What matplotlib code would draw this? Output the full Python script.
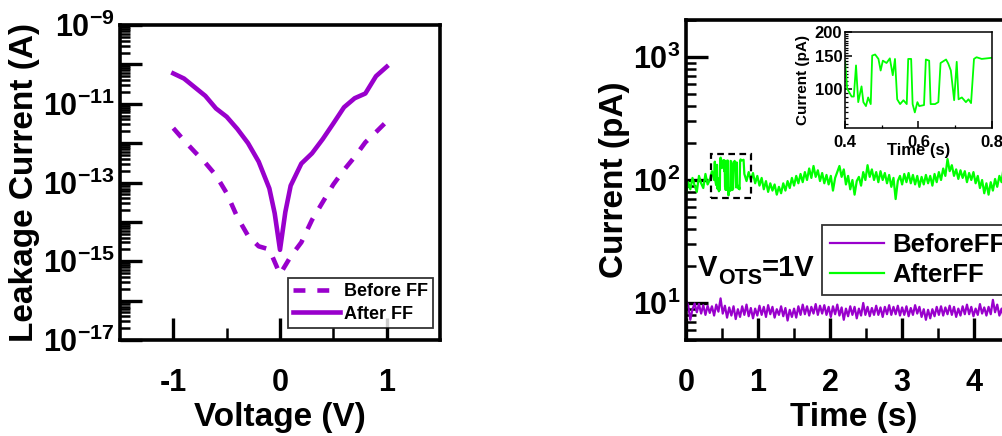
import numpy as np
import matplotlib
matplotlib.use("Agg")
import matplotlib.pyplot as plt
from matplotlib.ticker import LogLocator, MultipleLocator, NullFormatter, FixedLocator
from matplotlib.patches import Rectangle
from matplotlib.transforms import offset_copy

plt.rcParams['font.family'] = ['Liberation Sans', 'DejaVu Sans']
plt.rcParams['font.weight'] = 'bold'
plt.rcParams['mathtext.fontset'] = 'custom'
plt.rcParams['mathtext.rm'] = 'Liberation Sans:bold'
plt.rcParams['mathtext.bf'] = 'Liberation Sans:bold'
plt.rcParams['mathtext.it'] = 'Liberation Sans:bold'

PURPLE = '#9900CC'
GREEN = '#00FF00'

# I-V leakage (log10 of current in A)
voltage = [-1.0, -0.9, -0.8, -0.7, -0.6, -0.5, -0.4, -0.3, -0.2, -0.1, -0.05,
           0.0, 0.05, 0.1, 0.2, 0.3, 0.4, 0.5, 0.6, 0.7, 0.8, 0.9, 1.0]
log_after = [-10.23, -10.36, -10.58, -10.80, -11.12, -11.33, -11.64, -12.00, -12.47, -13.15, -13.78,
             -14.71, -13.75, -13.08, -12.52, -12.26, -11.90, -11.50, -11.09, -10.86, -10.74, -10.30, -10.06]
v_before = [-1.0, -0.9, -0.8, -0.7, -0.6, -0.5, -0.4, -0.3, -0.2, -0.1,
            0.0, 0.1, 0.2, 0.3, 0.4, 0.5, 0.6, 0.7, 0.8, 0.9, 1.0]
log_before = [-11.62, -11.93, -12.22, -12.50, -12.82, -13.27, -13.88, -14.35, -14.62, -14.70,
              -15.33, -14.88, -14.52, -13.95, -13.50, -13.05, -12.68, -12.35, -11.98, -11.72, -11.45]

# zoomed telegraph window (s, pA)
t_zoom = [0.400, 0.406, 0.418, 0.424, 0.430, 0.436, 0.445, 0.450, 0.457, 0.463, 0.470,
          0.474, 0.482, 0.491, 0.497, 0.503, 0.513, 0.522, 0.530, 0.536, 0.542, 0.550,
          0.559, 0.568, 0.572, 0.580, 0.584, 0.590, 0.597, 0.602, 0.615, 0.620, 0.629,
          0.633, 0.645, 0.654, 0.660, 0.675, 0.681, 0.688, 0.697, 0.704, 0.709, 0.718,
          0.729, 0.736, 0.743, 0.751, 0.758, 0.772, 0.786, 0.799]
i_zoom = [141, 100, 91, 91, 133, 85, 103, 85, 81, 90, 83,
          150, 152, 144, 125, 141, 137, 145, 118, 144, 88, 83,
          87, 83, 144, 144, 83, 75, 85, 81, 82, 143, 141,
          83, 83, 85, 137, 143, 136, 125, 87, 139, 88, 90,
          85, 88, 84, 144, 147, 144, 145, 146]

# after-FF current outside the zoom window (pA), 0.03 s steps
t_after_a = [0.00, 0.03, 0.06, 0.09, 0.12, 0.15, 0.18, 0.21, 0.24, 0.27, 0.30, 0.33, 0.36, 0.39]
i_after_a = [76, 96, 84, 104, 90, 80, 108, 94, 86, 112, 92, 100, 118, 100]
i_after_b = [112, 98, 116, 100, 114, 94, 108,
             90, 104, 84, 98, 80, 94, 82,
             92, 76, 88, 78, 94, 82, 98,
             86, 104, 90, 108, 94, 112, 96,
             116, 100, 124, 104, 130, 106, 120,
             98, 114, 94, 110, 92, 108, 82,
             104, 116, 130, 106, 122, 92, 108,
             84, 100, 76, 98, 106, 90, 116,
             100, 132, 106, 122, 100, 116, 96,
             118, 100, 114, 94, 110, 88, 104,
             70, 98, 108, 92, 112, 96, 114,
             94, 110, 92, 108, 88, 106, 92,
             110, 94, 108, 90, 112, 96, 116,
             100, 124, 108, 148, 118, 132, 108,
             122, 102, 120, 104, 118, 96, 114,
             100, 116, 94, 108, 86, 100, 78,
             94, 76, 96, 82, 102, 88, 108,
             96, 128, 108, 122]
t_after_b = [round(0.81 + 0.03 * k, 2) for k in range(len(i_after_b))]

# before-FF current (pA), 0.03 s steps
i_before = [10.5, 9.6, 7.3, 8.9, 9.9, 8.4, 9.8, 8.2, 9.6, 8.0,
            9.5, 8.3, 9.4, 7.9, 9.7, 8.5, 10.9, 8.2, 9.5, 7.6,
            9.2, 7.9, 9.4, 7.4, 8.9, 7.7, 9.4, 8.0, 9.7, 7.8,
            9.1, 7.5, 9.0, 7.9, 9.5, 8.0, 9.3, 7.7, 9.6, 8.1,
            9.3, 7.6, 8.9, 8.0, 9.4, 7.8, 9.1, 7.2, 8.8, 7.7,
            9.0, 7.6, 9.4, 8.0, 9.7, 8.1, 9.4, 7.9, 9.3, 8.2,
            9.8, 8.0, 9.5, 8.2, 9.6, 8.0, 9.3, 7.7, 9.4, 8.1,
            9.7, 7.9, 9.2, 7.3, 9.0, 7.8, 9.4, 8.0, 9.3, 7.5,
            9.0, 7.9, 10.0, 8.0, 9.3, 7.8, 9.1, 8.0, 9.5, 8.0,
            9.2, 7.7, 9.3, 8.1, 9.6, 8.0, 9.3, 8.1, 9.5, 7.9,
            9.2, 8.0, 9.4, 7.8, 9.1, 8.0, 9.6, 8.2, 9.3, 7.7,
            8.9, 7.3, 8.8, 7.5, 8.9, 7.8, 9.3, 8.0, 9.4, 7.9,
            9.2, 8.1, 9.5, 8.0, 9.3, 7.7, 9.0, 7.9, 9.4, 8.1,
            9.7, 8.1, 9.3, 7.8, 9.0, 8.0, 9.8, 8.2, 9.2, 7.9,
            9.3, 8.1, 10.6, 8.4, 9.7, 7.9, 9.0, 7.6, 8.7, 7.7]
t_before = [round(0.03 * k, 2) for k in range(len(i_before))]

t_after = t_after_a + t_zoom + t_after_b
i_after = i_after_a + i_zoom + i_after_b

fig = plt.figure(figsize=(10.03, 4.36), dpi=100)

# ---- left: leakage vs voltage
ax1 = fig.add_axes([120 / 1003, 96 / 436, 320 / 1003, 315 / 436])
ax1.plot(v_before, 10.0 ** np.array(log_before), color=PURPLE, lw=3.3, dashes=(2.6, 2.6), label='Before FF')
ax1.plot(voltage, 10.0 ** np.array(log_after), color=PURPLE, lw=3.3, label='After FF')
ax1.set_yscale('log')
ax1.set_xlim(-1.5, 1.5)
ax1.set_ylim(1e-17, 1e-9)
decades = [10.0 ** e for e in range(-17, -8)]
ylabels = [r'$\mathdefault{10^{%d}}$' % e if e % 2 else '' for e in range(-17, -8)]
ax1.set_yticks(decades, ylabels)
ax1.yaxis.set_minor_locator(LogLocator(base=10, subs=np.arange(2, 10), numticks=100))
ax1.yaxis.set_minor_formatter(NullFormatter())
ax1.set_xticks([-1, 0, 1], ['-1', '0', '1'])
ax1.xaxis.set_minor_locator(FixedLocator([-0.5, 0.5]))
ax1.set_xlabel('Voltage (V)', fontsize=24, fontweight='bold', labelpad=3)
ax1.set_ylabel('Leakage Current (A)', fontsize=24, fontweight='bold', labelpad=2)
leg1 = ax1.legend(loc='lower right', bbox_to_anchor=(0.978, 0.038), borderaxespad=0,
                  fontsize=13, handlelength=2.6, handletextpad=0.2, borderpad=0.3,
                  labelspacing=0.3, frameon=True, fancybox=False)
leg1.get_frame().set_edgecolor('black')
leg1.get_frame().set_linewidth(1.3)

# ---- right: current vs time
ax2 = fig.add_axes([686 / 1003, 96 / 436, 335 / 1003, 320 / 436])
ax2.plot(t_before, i_before, color=PURPLE, lw=1.6, label='BeforeFF')
ax2.plot(t_after, i_after, color=GREEN, lw=1.6, label='AfterFF')
ax2.set_yscale('log')
ax2.set_xlim(0, 4.65)
ax2.set_ylim(5, 2000)
ax2.set_yticks([10, 100, 1000], [r'$\mathdefault{10^{1}}$', r'$\mathdefault{10^{2}}$', r'$\mathdefault{10^{3}}$'])
ax2.yaxis.set_minor_locator(LogLocator(base=10, subs=np.arange(2, 10), numticks=100))
ax2.yaxis.set_minor_formatter(NullFormatter())
ax2.xaxis.set_major_locator(MultipleLocator(1))
ax2.xaxis.set_minor_locator(MultipleLocator(0.5))
ax2.set_xlabel('Time (s)', fontsize=24, fontweight='bold', labelpad=3)
ax2.set_ylabel('Current (pA)', fontsize=24, fontweight='bold', labelpad=2)
leg2 = ax2.legend(loc='lower left', bbox_to_anchor=(0.406, 0.14), borderaxespad=0,
                  fontsize=18.5, handlelength=2.1, handletextpad=0.35, borderpad=0.3,
                  labelspacing=0.25, frameon=True, fancybox=False)
leg2.get_frame().set_edgecolor('black')
leg2.get_frame().set_linewidth(1.3)

# V_OTS annotation built from pieces so the subscript sits low
renderer = fig.canvas.get_renderer()
t_v = ax2.text(0.035, 0.2, 'V', transform=ax2.transAxes, fontsize=21, va='baseline')
w = t_v.get_window_extent(renderer).width
t_sub = ax2.text(0.035, 0.2, 'OTS', fontsize=15.5, va='baseline',
                 transform=offset_copy(ax2.transAxes, fig, x=w + 1, y=-8, units='dots'))
w2 = t_sub.get_window_extent(renderer).width
ax2.text(0.035, 0.2, '=1V', fontsize=21, va='baseline',
         transform=offset_copy(ax2.transAxes, fig, x=w + w2 + 1, y=0, units='dots'))

# dashed frame around the zoomed telegraph window
x0, x1 = min(t_zoom) - 0.05, max(t_zoom) + 0.1
y0, y1 = min(i_zoom) * 0.96, max(i_zoom) * 1.07
ax2.add_patch(Rectangle((x0, y0), x1 - x0, y1 - y0, fill=False, ec='black', lw=1.6,
                        ls=(0, (3, 2)), zorder=5))

for ax in (ax1, ax2):
    for s in ax.spines.values():
        s.set_linewidth(2.6)
    ax.tick_params(which='major', direction='in', length=16, width=2.4, labelsize=22, pad=4)
    ax.tick_params(which='minor', direction='in', length=7.5, width=1.8)
    ax.tick_params(axis='x', which='major', pad=20)
    ax.tick_params(axis='x', which='minor', length=8.5)
    ax.tick_params(top=False, right=False, which='both')
    for lab in ax.get_xticklabels() + ax.get_yticklabels():
        lab.set_fontweight('bold')

# ---- inset: zoomed telegraph signal
ax3 = fig.add_axes([845 / 1003, 308 / 436, 147 / 1003, 96 / 436])
ax3.plot(t_zoom, i_zoom, color=GREEN, lw=1.3)
ax3.set_yscale('log')
ax3.set_xlim(0.4, 0.8)
ax3.set_ylim(62, 200)
ax3.set_yticks([100, 150, 200], ['100', '150', '200'])
ax3.yaxis.set_minor_locator(MultipleLocator(5))
ax3.yaxis.set_minor_formatter(NullFormatter())
ax3.xaxis.set_minor_locator(MultipleLocator(0.1))
ax3.set_xticks([0.4, 0.6, 0.8], ['0.4', '0.6', '0.8'])
for s in ax3.spines.values():
    s.set_linewidth(1.1)
ax3.tick_params(which='major', direction='in', length=5, width=1.1, labelsize=12, pad=2)
ax3.tick_params(which='minor', direction='in', length=2.5, width=0.9)
ax3.tick_params(axis='x', which='major', pad=5)
ax3.set_xlabel('Time (s)', fontsize=12, fontweight='bold', labelpad=-5)
ax3.set_ylabel('Current (pA)', fontsize=11, fontweight='bold', labelpad=3)

fig.savefig('out.png', dpi=100)
